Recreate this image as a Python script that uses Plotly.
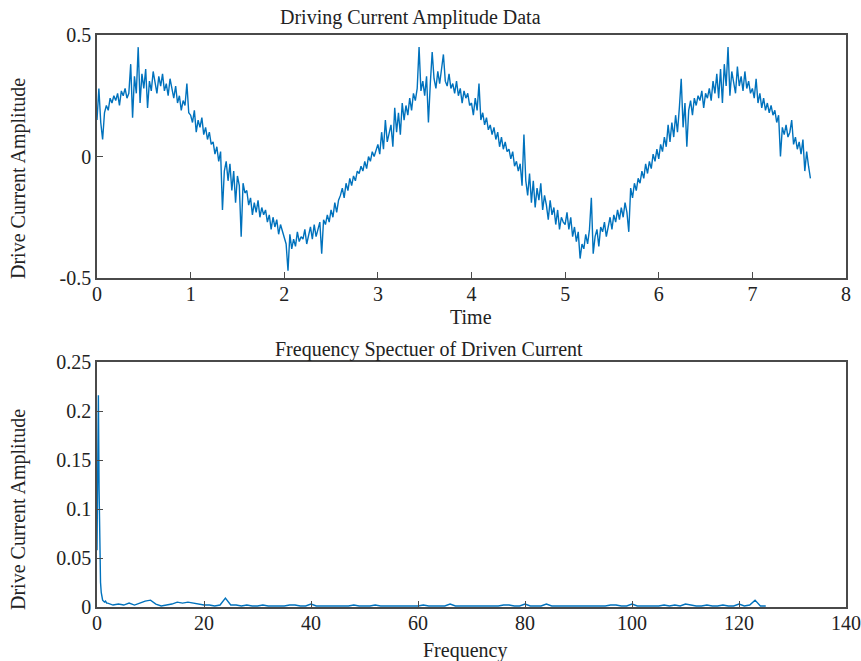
import numpy as np
import plotly.graph_objects as go

# ---------------- data ----------------
dt = 0.02  # sampling step of the time trace
drive_current = [
    0.15, 0.28, 0.14, 0.07, 0.18, 0.21, 0.19, 0.24, 0.22, 0.25,
    0.23, 0.26, 0.21, 0.27, 0.25, 0.28, 0.24, 0.26, 0.38, 0.16,
    0.33, 0.26, 0.45, 0.22, 0.34, 0.28, 0.36, 0.20, 0.31, 0.27,
    0.35, 0.30, 0.26, 0.33, 0.29, 0.34, 0.27, 0.30, 0.25, 0.32,
    0.27, 0.24, 0.29, 0.22, 0.25, 0.19, 0.23, 0.21, 0.30, 0.18,
    0.17, 0.14, 0.19, 0.10, 0.15, 0.12, 0.16, 0.09, 0.12, 0.07,
    0.10, 0.05, 0.06, 0.01, 0.04, -0.02, 0.02, -0.22, -0.06, -0.02,
    -0.10, -0.03, -0.14, -0.06, -0.19, -0.08, -0.12, -0.33, -0.11, -0.15,
    -0.14, -0.20, -0.17, -0.24, -0.19, -0.23, -0.18, -0.25, -0.21, -0.24,
    -0.22, -0.27, -0.24, -0.30, -0.25, -0.29, -0.26, -0.32, -0.28, -0.31,
    -0.33, -0.36, -0.47, -0.32, -0.38, -0.34, -0.37, -0.31, -0.35, -0.33,
    -0.34, -0.30, -0.36, -0.32, -0.29, -0.34, -0.28, -0.33, -0.30, -0.27,
    -0.40, -0.26, -0.28, -0.24, -0.27, -0.22, -0.25, -0.19, -0.23, -0.18,
    -0.16, -0.13, -0.17, -0.11, -0.14, -0.09, -0.12, -0.08, -0.10, -0.06,
    -0.07, -0.04, -0.06, -0.02, -0.05, 0.00, -0.02, 0.02, 0.00, 0.03,
    0.05, 0.01, 0.10, 0.03, 0.15, 0.06, 0.09, 0.13, 0.04, 0.20,
    0.10, 0.18, 0.09, 0.22, 0.15, 0.21, 0.17, 0.24, 0.19, 0.26,
    0.23, 0.28, 0.45, 0.27, 0.31, 0.25, 0.33, 0.14, 0.30, 0.43,
    0.32, 0.28, 0.35, 0.30, 0.36, 0.42, 0.31, 0.29, 0.34, 0.28,
    0.30, 0.26, 0.31, 0.25, 0.28, 0.22, 0.27, 0.24, 0.26, 0.21,
    0.22, 0.17, 0.24, 0.19, 0.30, 0.15, 0.18, 0.13, 0.16, 0.11,
    0.13, 0.09, 0.12, 0.07, 0.10, 0.04, 0.08, 0.03, 0.06, 0.02,
    0.03, -0.01, 0.02, -0.04, -0.02, -0.06, -0.03, -0.12, 0.09, -0.10,
    -0.16, -0.07, -0.19, -0.10, -0.21, -0.13, -0.18, -0.11, -0.22, -0.16,
    -0.20, -0.26, -0.18, -0.24, -0.21, -0.28, -0.22, -0.30, -0.25, -0.27,
    -0.28, -0.23, -0.30, -0.25, -0.33, -0.29, -0.35, -0.31, -0.42, -0.36,
    -0.38, -0.32, -0.36, -0.30, -0.17, -0.40, -0.33, -0.30, -0.37, -0.29,
    -0.31, -0.27, -0.33, -0.28, -0.25, -0.30, -0.24, -0.27, -0.22, -0.26,
    -0.21, -0.25, -0.19, -0.23, -0.31, -0.13, -0.17, -0.11, -0.14, -0.09,
    -0.11, -0.06, -0.09, -0.03, -0.07, -0.02, -0.05, 0.01, -0.02, 0.03,
    -0.01, 0.05, 0.02, 0.08, 0.04, 0.13, 0.06, 0.14, 0.08, 0.17,
    0.10, 0.20, 0.32, 0.12, 0.22, 0.04, 0.19, 0.23, 0.17, 0.24,
    0.21, 0.25, 0.23, 0.27, 0.20, 0.26, 0.24, 0.28, 0.23, 0.31,
    0.26, 0.34, 0.24, 0.36, 0.22, 0.38, 0.29, 0.45, 0.25, 0.35,
    0.30, 0.26, 0.37, 0.29, 0.33, 0.27, 0.35, 0.28, 0.31, 0.26,
    0.28, 0.24, 0.32, 0.22, 0.26, 0.20, 0.24, 0.19, 0.22, 0.18,
    0.21, 0.17, 0.19, 0.14, 0.17, 0.00, 0.12, 0.09, 0.13, 0.08,
    0.10, 0.15, 0.05, 0.08, 0.03, 0.06, 0.01, 0.07, -0.06, 0.02,
    -0.04, -0.09,
]
time = np.round(np.arange(len(drive_current)) * dt, 3)

freq_low = [0.0, 0.13, 0.26, 0.39, 0.52, 0.66, 0.79, 0.92, 1.05, 1.2, 1.4, 1.6, 1.8]
amp_low = [0.058, 0.16, 0.216, 0.12, 0.05, 0.025, 0.015, 0.010, 0.007, 0.006, 0.005, 0.006, 0.004]
freq_high = list(range(2, 126))
amp_high_milli = [
    4, 2, 3, 2, 4, 2, 4, 6, 7, 3, 1, 2, 3, 5, 4, 5, 4, 3, 2, 2,
    1, 2, 9, 2, 2, 1, 2, 1, 1, 2, 1, 1, 1, 1, 2, 2, 1, 1, 3, 1,
    1, 1, 1, 1, 1, 1, 2, 1, 1, 1, 2, 1, 1, 1, 1, 1, 1, 1, 1, 2,
    1, 1, 1, 1, 3, 1, 1, 1, 1, 1, 1, 1, 1, 1, 2, 2, 1, 1, 3, 1,
    1, 1, 3, 1, 1, 1, 1, 1, 1, 1, 1, 1, 1, 1, 2, 2, 1, 1, 3, 1,
    1, 1, 1, 1, 2, 1, 2, 1, 3, 2, 1, 1, 2, 1, 1, 2, 1, 1, 3, 1,
    2, 7, 1, 1,
]
freq = freq_low + freq_high
spectrum = amp_low + [v / 1000.0 for v in amp_high_milli]

top_title = "Driving Current Amplitude Data"
bottom_title = "Frequency Spectuer of Driven Current"
x1_ticks = [0, 1, 2, 3, 4, 5, 6, 7, 8]
y1_ticks = [-0.5, 0, 0.5]
y1_labels = ["-0.5", "0", "0.5"]
x2_ticks = [0, 20, 40, 60, 80, 100, 120, 140]
y2_ticks = [0, 0.05, 0.1, 0.15, 0.2, 0.25]
y2_labels = ["0", "0.05", "0.1", "0.15", "0.2", "0.25"]

# ---------------- figure ----------------
LINE = "#0072BD"
AX = "#4a4a4a"
FONT = "Liberation Serif"
FS = 20

fig = go.Figure()
fig.add_trace(go.Scatter(x=time, y=drive_current, mode="lines",
                         line=dict(color=LINE, width=1.4),
                         xaxis="x", yaxis="y", showlegend=False))
fig.add_trace(go.Scatter(x=freq, y=spectrum, mode="lines",
                         line=dict(color=LINE, width=1.4),
                         xaxis="x2", yaxis="y2", showlegend=False))

common = dict(showgrid=False, zeroline=False, showline=True, mirror=True,
              linecolor=AX, linewidth=1.5, ticks="inside", ticklen=6,
              tickcolor=AX, tickwidth=1, automargin=False,
              tickfont=dict(family=FONT, size=FS, color="#222"))

W, H = 861, 661
ml, mr, mt, mb = 97, 15, 35, 54
ph = H - mt - mb
top_dom = [(607 - 278) / ph, 1.0]
bot_dom = [0.0, (607 - 362) / ph]

fig.update_layout(
    width=W, height=H, autosize=False,
    margin=dict(l=ml, r=mr, t=mt, b=mb),
    paper_bgcolor="white", plot_bgcolor="white",
    font=dict(family=FONT, size=FS, color="#222"),
    xaxis=dict(domain=[0, 1], anchor="y", range=[0, 8], tickmode="array",
               tickvals=x1_ticks, ticklabelstandoff=-3, **common),
    yaxis=dict(domain=top_dom, anchor="x", range=[-0.5, 0.5], tickmode="array",
               tickvals=y1_ticks, ticktext=y1_labels, **common),
    xaxis2=dict(domain=[0, 1], anchor="y2", range=[0, 140], tickmode="array",
                tickvals=x2_ticks, ticklabelstandoff=-3, **common),
    yaxis2=dict(domain=bot_dom, anchor="x2", range=[0, 0.25], tickmode="array",
                tickvals=y2_ticks, ticktext=y2_labels, **common),
)

def px_x(px):
    return (px - ml) / (W - ml - mr)

def px_y(py):
    return (H - mb - py) / ph

ann = [
    (top_title, 410, 18, 0),
    (bottom_title, 429, 349, 0),
    ("Time", 471, 317, 0),
    ("Frequency", 465, 650, 0),
    ("Drive Current Amplitude", 18, 179, -90),
    ("Drive Current Amplitude", 18, 510, -90),
]
for text, x, y, ang in ann:
    fig.add_annotation(text=text, x=px_x(x), y=px_y(y), xref="paper", yref="paper",
                       xanchor="center", yanchor="middle", showarrow=False,
                       textangle=ang, font=dict(family=FONT, size=FS, color="#222"))

fig.write_html("out.html", config={"displayModeBar": False},
               post_script="document.body.style.margin='0';document.body.style.overflow='hidden';")
